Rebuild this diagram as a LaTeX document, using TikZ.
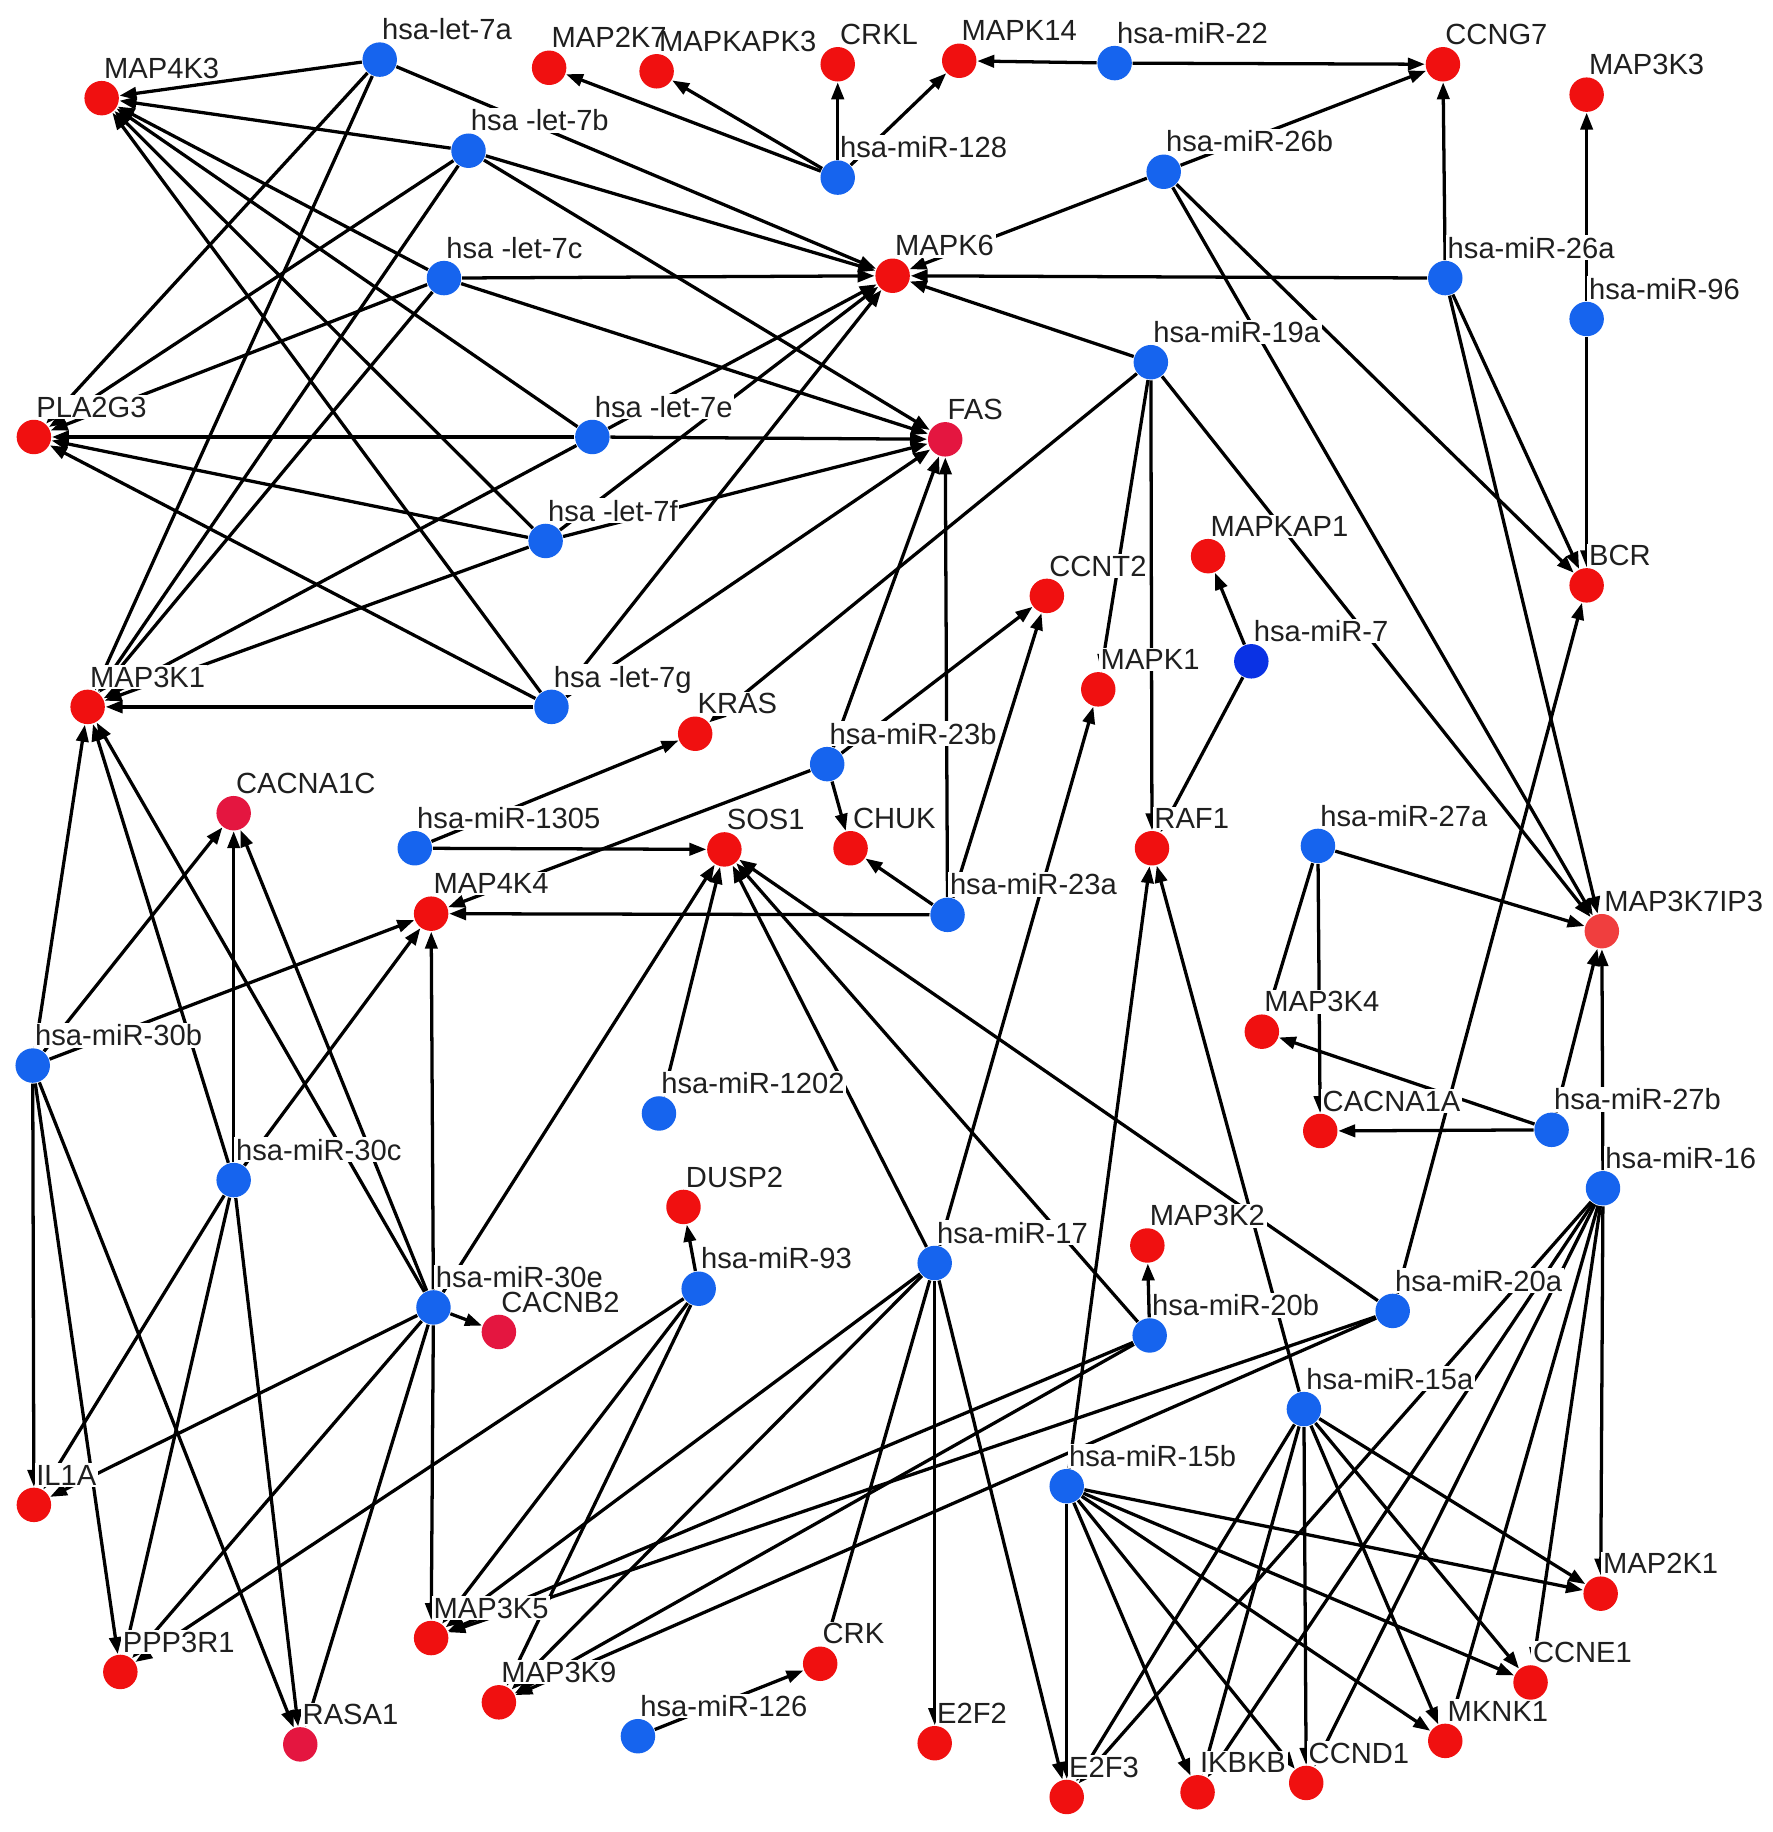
\documentclass[tikz,border=0pt]{standalone}
\usepackage{fontspec}
\setmainfont{Liberation Sans}
\usetikzlibrary{arrows.meta}
\pgfdeclarelayer{edgelayer}
\pgfdeclarelayer{labellayer}
\pgfsetlayers{edgelayer,labellayer,main}
\definecolor{tred}{RGB}{240,16,16}
\definecolor{tcrim}{RGB}{228,22,64}
\definecolor{tlred}{RGB}{240,62,62}
\definecolor{mblue}{RGB}{22,100,238}
\definecolor{mdblue}{RGB}{10,50,228}
\newcommand{\genenode}[5][tred]{%
  \node[gene,fill=#1] (#2) at (#3,#4) {};%
  \begin{pgfonlayer}{labellayer}\node[lab] (l#2) at (#3,#4-17) {#5};\end{pgfonlayer}}
\newcommand{\mirnode}[5][mblue]{%
  \node[mir,fill=#1] (#2) at (#3,#4) {};%
  \begin{pgfonlayer}{labellayer}\node[lab] (l#2) at (#3,#4-17) {#5};\end{pgfonlayer}}
\begin{document}
\begin{tikzpicture}[x=0.1mm,y=-0.1mm,
  gene/.style={circle,draw=none,minimum size=2.95mm,inner sep=0pt},
  mir/.style={circle,draw=none,minimum size=2.95mm,inner sep=0pt},
  lab/.style={anchor=base west,inner sep=0.4pt,fill=white,text=black!88,font=\fontsize{7.1}{8}\selectfont},
  edge/.style={-{Triangle[length=1.45mm,width=1.05mm]},line width=0.28mm,black}]
\begin{pgfonlayer}{edgelayer}
\fill[white] (0,0) rectangle (1517,1568);
\end{pgfonlayer}
\useasboundingbox (0,0) rectangle (1517,1568);
% targets
\genenode{MAP4K3}{87}{84}{MAP4K3}
\node[gene,fill=tred] (MAP2K7) at (470,58) {};
\node[gene,fill=tred] (MAPKAPK3) at (562,61) {};
\begin{pgfonlayer}{labellayer}
\node[lab] (lMAP2K7) at (470,41) {MAP2K7};
\node[lab,fill=none] (lMAPKAPK3) at (562,44) {MAPKAPK3};
\end{pgfonlayer}
\genenode{CRKL}{717}{55}{CRKL}
\genenode{MAPK14}{821}{52}{MAPK14}
\genenode{CCNG7}{1235}{55}{CCNG7}
\genenode{MAP3K3}{1358}{81}{MAP3K3}
\genenode{MAPK6}{764}{236}{MAPK6}
\genenode{PLA2G3}{29}{374}{PLA2G3}
\genenode[tcrim]{FAS}{809}{376}{FAS}
\genenode{MAPKAP1}{1034}{476}{MAPKAP1}
\genenode{CCNT2}{896}{510}{CCNT2}
\genenode{BCR}{1358}{501}{BCR}
\genenode{MAP3K1}{75}{605}{MAP3K1}
\genenode{MAPK1}{940}{590}{MAPK1}
\genenode{KRAS}{595}{628}{KRAS}
\genenode[tcrim]{CACNA1C}{200}{696}{CACNA1C}
\genenode{SOS1}{620}{727}{SOS1}
\genenode{CHUK}{728}{726}{CHUK}
\genenode{RAF1}{986}{726}{RAF1}
\genenode{MAP4K4}{369}{782}{MAP4K4}
\genenode[tlred]{MAP3K7IP3}{1371}{797}{MAP3K7IP3}
\genenode{MAP3K4}{1080}{883}{MAP3K4}
\genenode{CACNA1A}{1130}{968}{CACNA1A}
\genenode{DUSP2}{585}{1033}{DUSP2}
\genenode{MAP3K2}{982}{1066}{MAP3K2}
\genenode[tcrim]{CACNB2}{427}{1140}{CACNB2}
\genenode{IL1A}{29}{1288}{IL1A}
\genenode{MAP2K1}{1370}{1364}{MAP2K1}
\genenode{MAP3K5}{369}{1402}{MAP3K5}
\genenode{PPP3R1}{103}{1431}{PPP3R1}
\genenode{MAP3K9}{427}{1457}{MAP3K9}
\genenode{CRK}{702}{1424}{CRK}
\genenode{CCNE1}{1310}{1440}{CCNE1}
\genenode{E2F2}{800}{1492}{E2F2}
\genenode{MKNK1}{1237}{1490}{MKNK1}
\genenode[tcrim]{RASA1}{257}{1493}{RASA1}
\genenode{E2F3}{913}{1538}{E2F3}
\genenode{IKBKB}{1025}{1534}{IKBKB}
\genenode{CCND1}{1118}{1526}{CCND1}
% miRNAs
\mirnode{let7a}{325}{51}{hsa-let-7a}
\mirnode{let7b}{401}{129}{hsa -let-7b}
\mirnode{let7c}{380}{238}{hsa -let-7c}
\mirnode{let7e}{507}{374}{hsa -let-7e}
\mirnode{let7f}{467}{463}{hsa -let-7f}
\mirnode{let7g}{472}{605}{hsa -let-7g}
\mirnode{mir128}{717}{152}{hsa-miR-128}
\mirnode{mir22}{954}{54}{hsa-miR-22}
\mirnode{mir26b}{996}{147}{hsa-miR-26b}
\mirnode{mir26a}{1237}{238}{hsa-miR-26a}
\mirnode{mir96}{1358}{273}{hsa-miR-96}
\mirnode{mir19a}{985}{310}{hsa-miR-19a}
\mirnode[mdblue]{mir7}{1071}{566}{hsa-miR-7}
\mirnode{mir23b}{708}{654}{hsa-miR-23b}
\mirnode{mir1305}{355}{726}{hsa-miR-1305}
\mirnode{mir23a}{811}{783}{hsa-miR-23a}
\mirnode{mir27a}{1128}{724}{hsa-miR-27a}
\mirnode{mir30b}{28}{912}{hsa-miR-30b}
\mirnode{mir1202}{564}{953}{hsa-miR-1202}
\mirnode{mir27b}{1328}{967}{hsa-miR-27b}
\mirnode{mir30c}{200}{1010}{hsa-miR-30c}
\mirnode{mir16}{1372}{1017}{hsa-miR-16}
\mirnode{mir17}{800}{1081}{hsa-miR-17}
\mirnode{mir93}{598}{1103}{hsa-miR-93}
\mirnode{mir30e}{371}{1119}{hsa-miR-30e}
\mirnode{mir20b}{984}{1143}{hsa-miR-20b}
\mirnode{mir20a}{1192}{1122}{hsa-miR-20a}
\mirnode{mir15a}{1116}{1206}{hsa-miR-15a}
\mirnode{mir15b}{913}{1272}{hsa-miR-15b}
\mirnode{mir126}{546}{1486}{hsa-miR-126}
% edges
\begin{pgfonlayer}{edgelayer}
\foreach \s/\tl in {
  let7a/{MAP4K3,PLA2G3,MAP3K1,MAPK6},
  let7b/{MAP4K3,PLA2G3,MAP3K1,MAPK6,FAS},
  let7c/{MAP4K3,PLA2G3,MAP3K1,MAPK6,FAS},
  let7e/{MAP4K3,PLA2G3,MAP3K1,MAPK6,FAS},
  let7f/{MAP4K3,PLA2G3,MAP3K1,MAPK6,FAS},
  let7g/{MAP4K3,PLA2G3,MAP3K1,MAPK6,FAS},
  mir128/{MAP2K7,MAPKAPK3,CRKL,MAPK14},
  mir22/{MAPK14,CCNG7},
  mir26b/{CCNG7,MAPK6,BCR,MAP3K7IP3},
  mir26a/{CCNG7,MAPK6,BCR,MAP3K7IP3},
  mir96/{MAP3K3,BCR},
  mir19a/{MAPK6,KRAS,MAPK1,RAF1,MAP3K7IP3},
  mir7/{MAPKAP1,RAF1},
  mir23b/{CCNT2,FAS,CHUK,MAP4K4},
  mir23a/{FAS,CCNT2,CHUK,MAP4K4},
  mir1305/{KRAS,SOS1},
  mir1202/{SOS1},
  mir27a/{MAP3K7IP3,MAP3K4,CACNA1A},
  mir27b/{MAP3K7IP3,MAP3K4,CACNA1A},
  mir30b/{MAP3K1,CACNA1C,MAP4K4,IL1A,PPP3R1,RASA1},
  mir30c/{MAP3K1,CACNA1C,MAP4K4,IL1A,PPP3R1,RASA1},
  mir30e/{MAP3K1,CACNA1C,MAP4K4,SOS1,CACNB2,IL1A,PPP3R1,RASA1,MAP3K5},
  mir93/{DUSP2,PPP3R1,MAP3K5,MAP3K9},
  mir17/{SOS1,MAPK1,MAP3K5,MAP3K9,CRK,E2F2,E2F3},
  mir20b/{MAP3K2,SOS1,MAP3K5,MAP3K9},
  mir20a/{BCR,SOS1,MAP3K5,MAP3K9},
  mir126/{CRK},
  mir16/{MAP3K7IP3,MAP2K1,CCNE1,MKNK1,CCND1,IKBKB,E2F3},
  mir15a/{RAF1,MAP2K1,CCNE1,MKNK1,CCND1,IKBKB,E2F3},
  mir15b/{RAF1,MAP2K1,CCNE1,MKNK1,CCND1,IKBKB,E2F3}}
  {\foreach \t in \tl {\draw[edge] (\s) -- (\t);}}
\end{pgfonlayer}
\end{tikzpicture}
\end{document}
